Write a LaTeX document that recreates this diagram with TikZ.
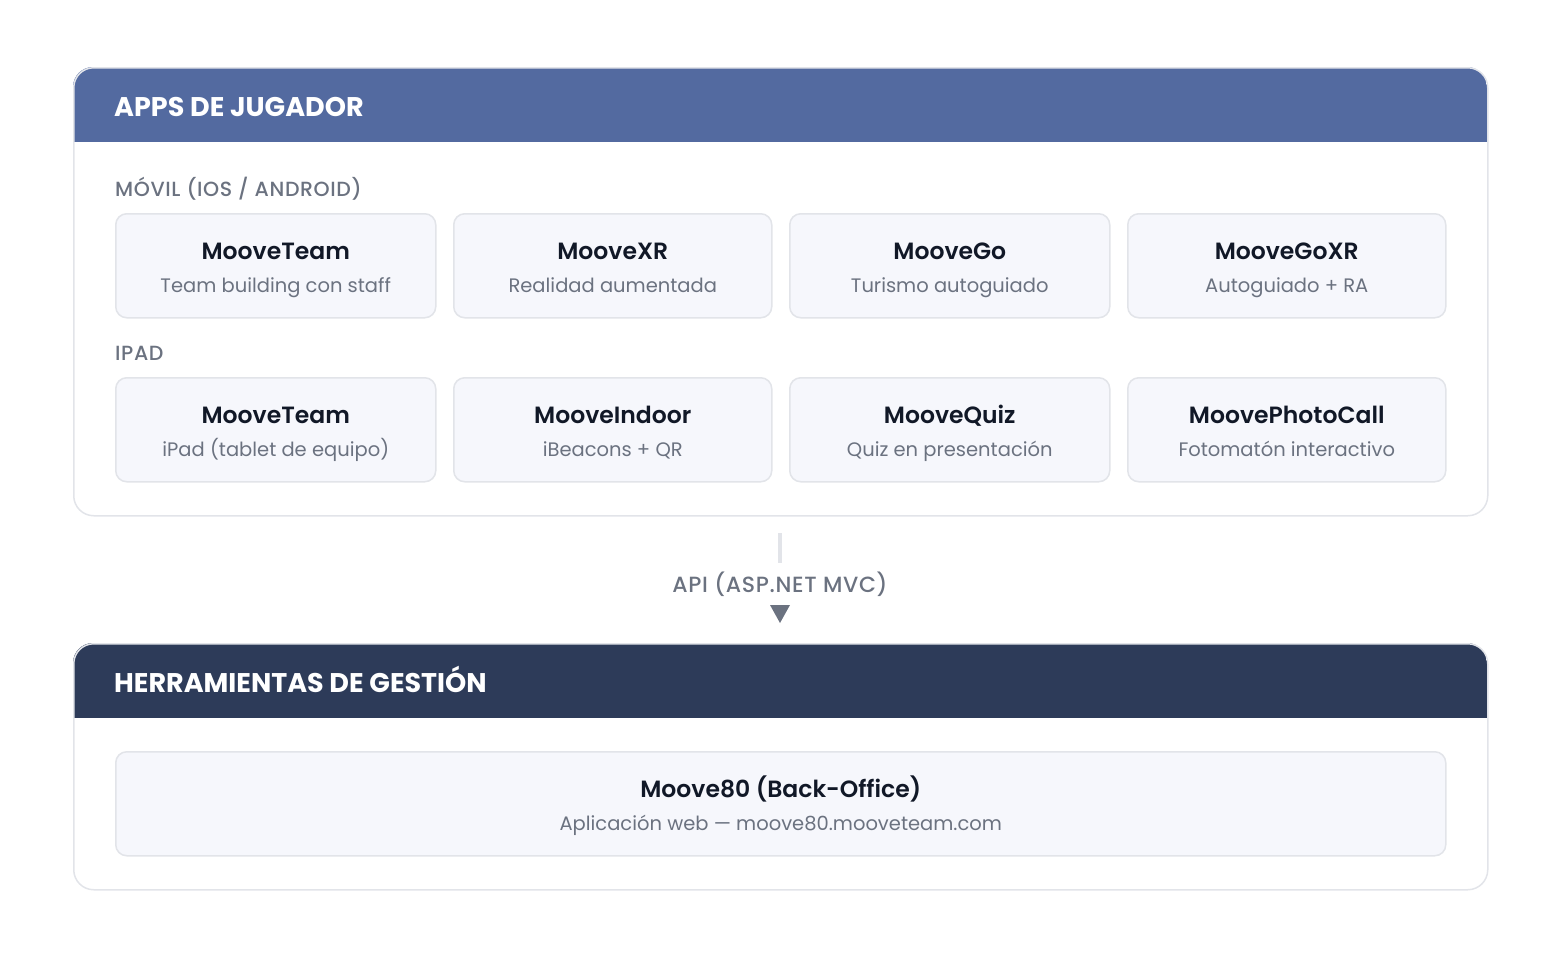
\documentclass[tikz,border=0pt]{standalone}
\usepackage{fontspec}
\setmainfont{Poppins}[BoldFont=* SemiBold]
\newfontfamily\pmed{Poppins}[UprightFont=* Medium, LetterSpace=3]
\newfontfamily\pbold{Poppins}[UprightFont=* Bold]
\definecolor{hdrA}{RGB}{83,106,160}
\definecolor{hdrB}{RGB}{45,59,89}
\definecolor{cardfill}{RGB}{246,247,252}
\definecolor{cardline}{RGB}{226,228,233}
\definecolor{ttl}{RGB}{17,24,39}
\definecolor{sub}{RGB}{107,114,128}
\tikzset{
  panel/.style={draw=cardline, line width=1.5pt, rounded corners=20pt},
  card/.style={draw=cardline, line width=1.5pt, fill=cardfill, rounded corners=11pt},
  cardtitle/.style={text=ttl, font=\bfseries\fontsize{23.5}{28}\selectfont, anchor=base, inner sep=0pt},
  cardsub/.style={text=sub, font=\fontsize{19.5}{24}\selectfont, anchor=base, inner sep=0pt},
  hdrtext/.style={text=white, font=\pbold\fontsize{27}{32}\selectfont, anchor=base west, inner sep=0pt},
  seclabel/.style={text=sub, font=\pmed\fontsize{20.5}{24}\selectfont, anchor=base west, inner sep=0pt},
}
\begin{document}
\begin{tikzpicture}[x=1pt,y=-1pt]
\useasboundingbox (0,0) rectangle (1560,956);
% ---------- panel 1 ----------
\begin{scope}
  \clip[rounded corners=20pt] (73,67) rectangle (1487,515);
  \fill[white] (73,67) rectangle (1487,515);
  \fill[hdrA] (73,67) rectangle (1487,142);
\end{scope}
\node[panel, minimum width=1414pt, minimum height=448pt, anchor=north west, inner sep=0pt] (apps) at (73,67) {};
\node[hdrtext] (appshdr) at (114,116) {APPS DE JUGADOR};
\node[seclabel] (movil) at (115,196) {MÓVIL (IOS / ANDROID)};
\node[seclabel] (ipad) at (115,360) {IPAD};
% cards
\newcommand{\appcard}[5]{%
  \node[card, minimum width=#3pt, minimum height=104pt, anchor=north west, inner sep=0pt] (#1) at (#2) {};
  \node[cardtitle] (#1t) at ([yshift=-46pt]#1.north) {#4};
  \node[cardsub] (#1s) at ([yshift=-79pt]#1.north) {#5};
}
\appcard{a1}{115,213}{320}{MooveTeam}{Team building con staff}
\appcard{a2}{453,213}{318}{MooveXR}{Realidad aumentada}
\appcard{a3}{789,213}{320}{MooveGo}{Turismo autoguiado}
\appcard{a4}{1127,213}{318}{MooveGoXR}{Autoguiado + RA}
\appcard{b1}{115,377}{320}{MooveTeam}{iPad (tablet de equipo)}
\appcard{b2}{453,377}{318}{MooveIndoor}{iBeacons + QR}
\appcard{b3}{789,377}{320}{MooveQuiz}{Quiz en presentación}
\appcard{b4}{1127,377}{318}{MoovePhotoCall}{Fotomatón interactivo}
% ---------- connector ----------
\coordinate (c1) at (780,533);
\coordinate (c2) at (780,563);
\draw[cardline, line width=3.5pt] (c1) -- (c2);
\node[text=sub, font=\pmed\fontsize{22}{26}\selectfont, inner sep=0pt, anchor=base] (api) at (780,592) {API (ASP.NET MVC)};
\fill[sub] (770,605) -- (790,605) -- (780,623) -- cycle;
% ---------- panel 2 ----------
\begin{scope}
  \clip[rounded corners=20pt] (73,643) rectangle (1487,889);
  \fill[white] (73,643) rectangle (1487,889);
  \fill[hdrB] (73,643) rectangle (1487,718);
\end{scope}
\node[panel, minimum width=1414pt, minimum height=246pt, anchor=north west, inner sep=0pt] (tools) at (73,643) {};
\node[hdrtext] (toolshdr) at (114,692) {HERRAMIENTAS DE GESTIÓN};
\node[card, minimum width=1330pt, minimum height=104pt, anchor=north west, inner sep=0pt] (bo) at (115,751) {};
\node[cardtitle] (bot) at ([yshift=-46pt]bo.north) {Moove80 (Back-Office)};
\node[cardsub] (bos) at ([yshift=-79pt]bo.north) {Aplicación web — moove80.mooveteam.com};
\end{tikzpicture}
\end{document}
